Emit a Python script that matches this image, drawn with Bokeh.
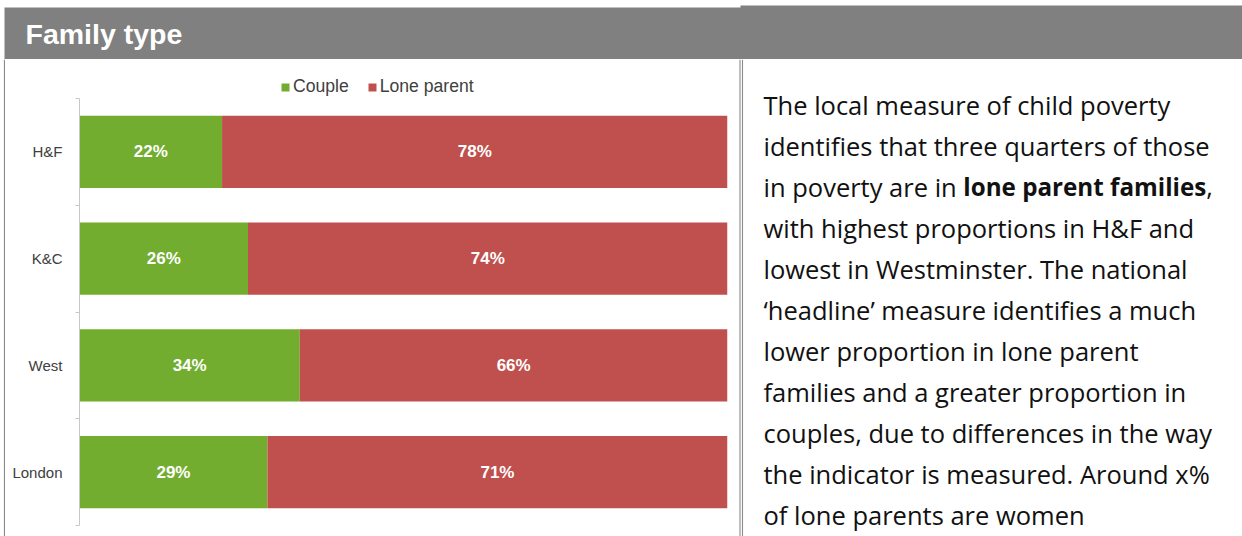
import subprocess

from bokeh.core.properties import value
from bokeh.embed import file_html
from bokeh.layouts import column, row
from bokeh.models import ColumnDataSource, FixedTicker, Legend, LegendItem, Range1d
from bokeh.plotting import figure
from bokeh.resources import INLINE

# ---------------------------------------------------------------- data
areas = ["H&F", "K&C", "West", "London"]
couple_pct = [22, 26, 34, 29]
lone_parent_pct = [78, 74, 66, 71]
series_names = ["Couple", "Lone parent"]
section_title = "Family type"

# commentary, one list of (text, is_bold) runs per line
commentary = [
    [("The local measure of child poverty", False)],
    [("identifies that three quarters of those", False)],
    [("in poverty are in ", False), ("lone parent families", True), (",", False)],
    [("with highest proportions in H&F and", False)],
    [("lowest in Westminster. The national", False)],
    [("\u2018headline\u2019 measure identifies a much", False)],
    [("lower proportion in lone parent", False)],
    [("families and a greater proportion in", False)],
    [("couples, due to differences in the way", False)],
    [("the indicator is measured. Around x%", False)],
    [("of lone parents are women", False)],
]

# ---------------------------------------------------------------- styling
PAGE_W, PAGE_H = 1242, 536
HEADER_H = 59
BODY_H = PAGE_H - HEADER_H
SPLIT_X = 741
GREEN = "#72ad2f"
RED = "#c0504d"
HEADER_GREY = "#808080"
RULE_GREY = "#8a8a8a"
AXIS_GREY = "#c8c8c8"
LABEL_GREY = "#404040"
CHART_FONT = "Liberation Sans"
BODY_FONT = "Open Sans"
BODY_SIZE = 25.5
BODY_BOLD_SIZE = 24.2

# chart geometry (pixels)
ROW_PX = 106.75      # height of one category band
PAD_TOP_PX = 39      # room above the first band (legend lives here)
PAD_BOTTOM_PX = 11   # room below the last band


def plain(fig):
    fig.min_border = 0
    fig.outline_line_color = None
    fig.background_fill_color = "white"
    fig.border_fill_color = "white"
    fig.xgrid.visible = False
    fig.ygrid.visible = False
    try:
        fig.frame_align = False
    except Exception:
        pass
    return fig


def _font_file(bold):
    try:
        res = subprocess.run(
            ["fc-match", "-f", "%{file}", BODY_FONT + (":bold" if bold else ":regular")],
            capture_output=True, text=True, timeout=5,
        )
        return res.stdout.strip() or None
    except Exception:
        return None


def run_width(s, bold, size):
    """Advance width of a text run in the body font."""
    try:
        from PIL import ImageFont
        f = ImageFont.truetype(_font_file(bold), 100)
        if bold:
            try:
                for nm in f.get_variation_names():
                    if (nm.decode() if isinstance(nm, bytes) else nm) == "Bold":
                        f.set_variation_by_name(nm)
            except Exception:
                pass
        return f.getlength(s) * size / 100.0
    except Exception:
        return len(s) * size * (0.58 if bold else 0.53)


# ---------------------------------------------------------------- header band
header = plain(figure(width=PAGE_W, height=HEADER_H, x_range=Range1d(0, PAGE_W),
                      y_range=Range1d(HEADER_H, 0), x_axis_type=None, y_axis_type=None,
                      toolbar_location=None, output_backend="svg"))
header.quad(left=[SPLIT_X - 1, 4], right=[PAGE_W, SPLIT_X], top=[5, 7],
            bottom=[HEADER_H, HEADER_H], fill_color=HEADER_GREY, line_color=None)
header.text(x=[25], y=[33], text=[section_title], text_font=value(CHART_FONT),
            text_font_style="bold", text_font_size="28.5px", text_color="white",
            text_baseline="middle", text_align="left")

# ---------------------------------------------------------------- left rule
edge = plain(figure(width=5, height=BODY_H, x_range=Range1d(0, 5), y_range=Range1d(BODY_H, 0),
                    x_axis_type=None, y_axis_type=None, toolbar_location=None,
                    output_backend="svg"))
edge.segment(x0=[4.2], y0=[0], x1=[4.2], y1=[BODY_H], line_color=RULE_GREY, line_width=1.6)

# ---------------------------------------------------------------- stacked bar chart
n = len(areas)
ypos = list(range(1, n + 1))
src = ColumnDataSource(dict(y=ypos, area=areas, couple=couple_pct, lone=lone_parent_pct))

chart_w = SPLIT_X - 4 - 5
chart = plain(figure(width=chart_w, height=BODY_H, x_range=Range1d(0, 100),
                     y_range=Range1d(n + 0.5 + PAD_BOTTOM_PX / ROW_PX, 0.5 - PAD_TOP_PX / ROW_PX),
                     x_axis_location=None, toolbar_location=None, output_backend="svg"))
chart.min_border_left = 74
chart.min_border_right = chart_w - 74 - 648

bars = chart.hbar_stack(["couple", "lone"], y="y", height=0.675, color=[GREEN, RED],
                        line_color=None, source=src)

# value labels centred in each segment
lab_x, lab_y, lab_t = [], [], []
for y, c, l in zip(ypos, couple_pct, lone_parent_pct):
    lab_x += [c / 2, c + l / 2]
    lab_y += [y, y]
    lab_t += [f"{c}%", f"{l}%"]
chart.text(x=lab_x, y=lab_y, text=lab_t, text_font=value(CHART_FONT), text_font_style="bold",
           text_font_size="17px", text_color="white", text_align="center",
           text_baseline="middle")

yax = chart.yaxis[0]
yax.bounds = (0.5, n + 0.5)
yax.ticker = FixedTicker(ticks=ypos, minor_ticks=[k + 0.5 for k in range(n + 1)])
yax.major_label_overrides = {y: a for y, a in zip(ypos, areas)}
yax.major_tick_line_color = None
yax.major_tick_in = 0
yax.major_tick_out = 0
yax.minor_tick_line_color = AXIS_GREY
yax.minor_tick_in = 0
yax.minor_tick_out = 4
yax.axis_line_color = AXIS_GREY
yax.major_label_standoff = 13
yax.major_label_text_font = CHART_FONT
yax.major_label_text_font_size = "15px"
yax.major_label_text_color = LABEL_GREY

legend = Legend(
    items=[LegendItem(label=nm, renderers=[r]) for nm, r in zip(series_names, bars)],
    orientation="horizontal", location=(201, BODY_H - 38), padding=0, margin=0, spacing=18,
    glyph_width=10, glyph_height=10, label_standoff=3, label_height=18,
    label_text_font=CHART_FONT, label_text_font_size="17.6px", label_text_color=LABEL_GREY,
    border_line_color=None, background_fill_alpha=0,
)
chart.add_layout(legend)

# ---------------------------------------------------------------- commentary panel
notes = plain(figure(width=PAGE_W - (SPLIT_X - 4), height=BODY_H,
                     x_range=Range1d(SPLIT_X - 4, PAGE_W),
                     y_range=Range1d(PAGE_H, HEADER_H), x_axis_type=None, y_axis_type=None,
                     toolbar_location=None, output_backend="svg"))
notes.segment(x0=[739.5, 742.0], y0=[HEADER_H] * 2, x1=[739.5, 742.0], y1=[PAGE_H] * 2,
              line_color=RULE_GREY, line_width=1.1)

tx, ty, tt, tstyle, tsize = [], [], [], [], []
x_start, first_base, leading = 763, 104, 41
for i, runs in enumerate(commentary):
    x = x_start
    for s, bold in runs:
        size = BODY_BOLD_SIZE if bold else BODY_SIZE
        tx.append(x)
        ty.append(first_base + i * leading)
        tt.append(s)
        tstyle.append("bold" if bold else "normal")
        tsize.append(f"{size}px")
        x += run_width(s, bold, size)
notes.text(x="x", y="y", text="t", text_font_style="style", text_font_size="size",
           source=ColumnDataSource(dict(x=tx, y=ty, t=tt, style=tstyle, size=tsize)),
           text_font=value(BODY_FONT), text_color="#111111",
           text_align="left", text_baseline="alphabetic")

layout = column(header, row(edge, chart, notes))
open("out.html", "w").write(file_html(layout, INLINE))
